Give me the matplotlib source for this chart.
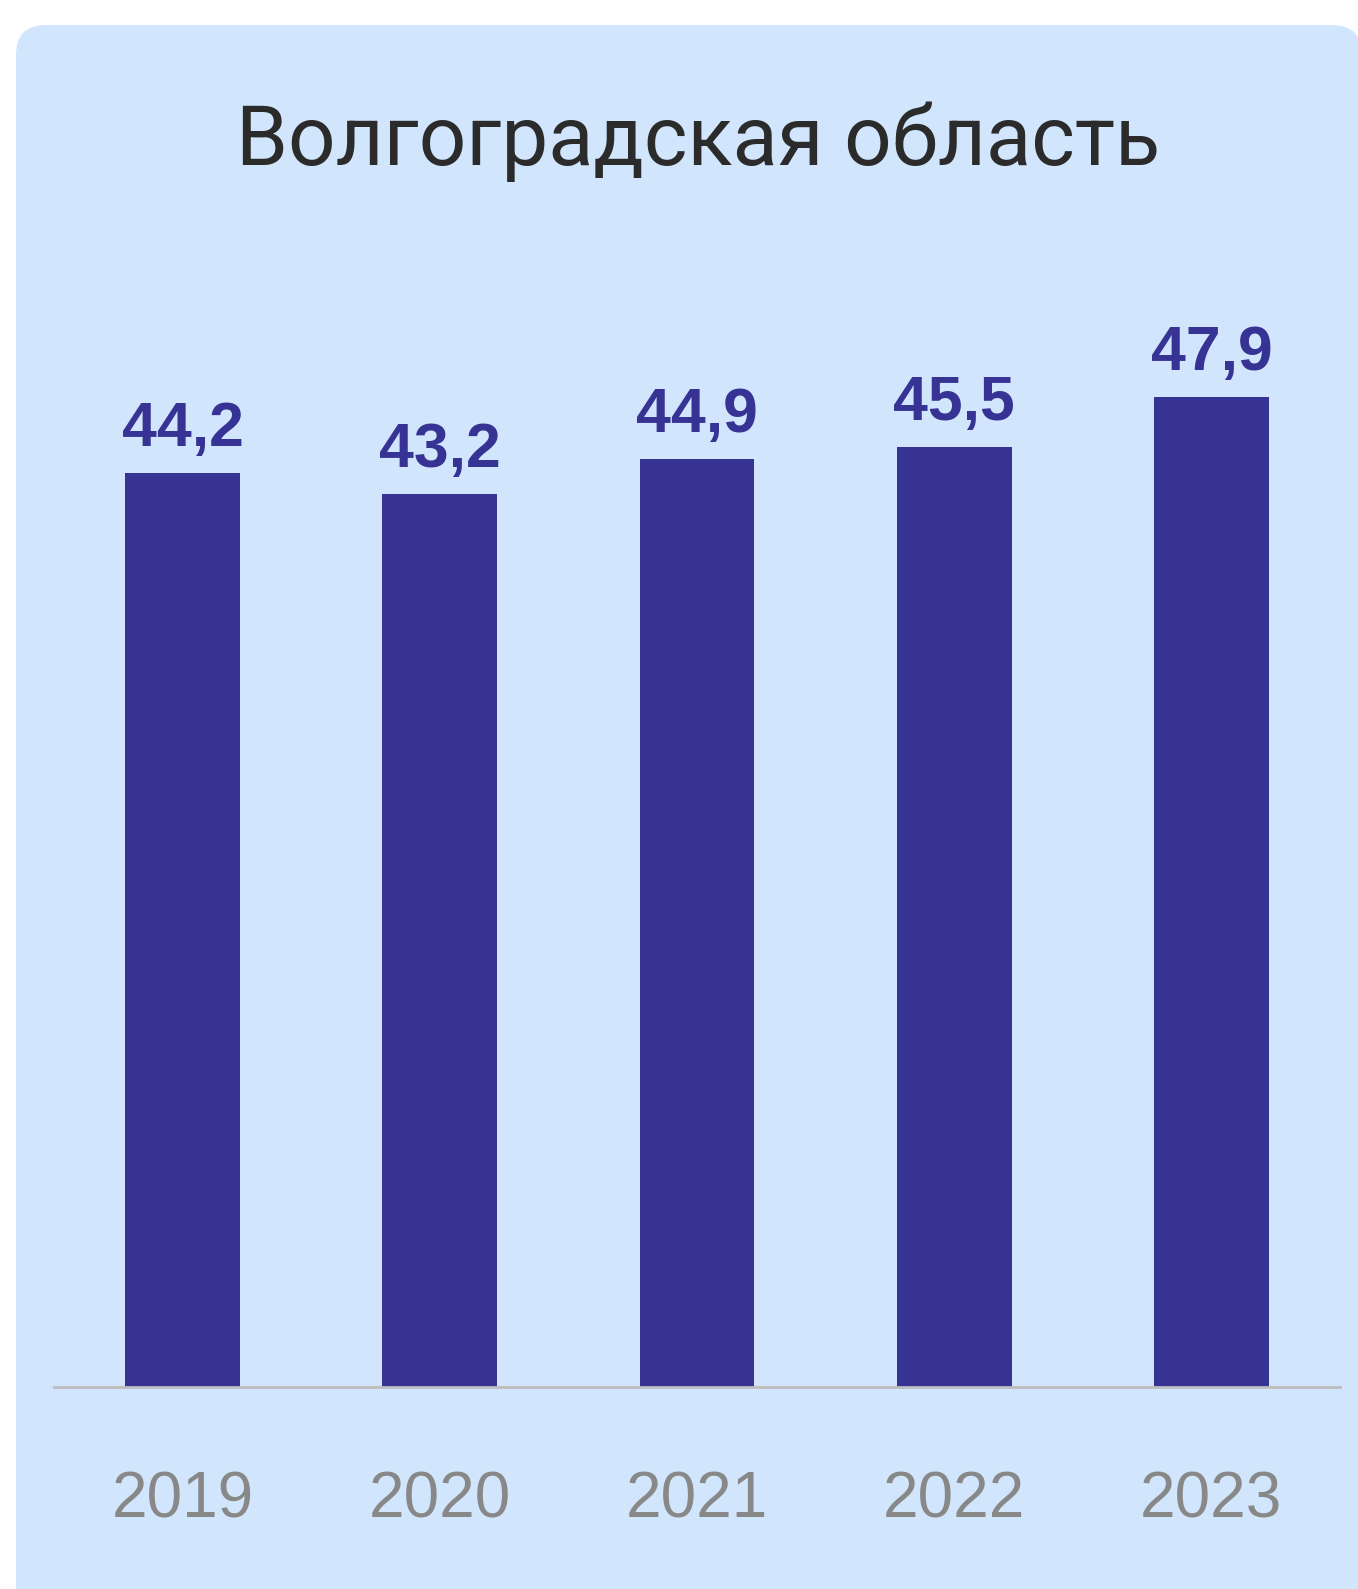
import matplotlib
matplotlib.use("Agg")
import matplotlib.pyplot as plt
from matplotlib.patches import FancyBboxPatch

years = ["2019", "2020", "2021", "2022", "2023"]
values = [44.2, 43.2, 44.9, 45.5, 47.9]
labels = ["44,2", "43,2", "44,9", "45,5", "47,9"]
title = "Волгоградская область"

W, H, DPI = 1358, 1589, 100
fig = plt.figure(figsize=(W / DPI, H / DPI), dpi=DPI)
fig.patch.set_facecolor("white")

bg = "#d1e6fd"
bar_c = "#363394"

# rounded panel (in inches)
panel = FancyBboxPatch((16 / DPI, -0.5), (1362 - 16) / DPI, (H - 25) / DPI + 0.5,
                       boxstyle="round,pad=0,rounding_size=0.30",
                       transform=fig.dpi_scale_trans, facecolor=bg, edgecolor="none", zorder=-5)
fig.patches.append(panel)

ax_left, ax_right = 54, 1340
ax_bottom, ax_top = 1387, 300
ax = fig.add_axes([ax_left / W, (H - ax_bottom) / H, (ax_right - ax_left) / W, (ax_bottom - ax_top) / H])
ax.set_facecolor("none")
ax.set_zorder(2)
px_per_unit = (1387 - 397) / 47.9
ax.set_ylim(0, (ax_bottom - ax_top) / px_per_unit)
ax.set_xlim(-0.5, len(years) - 0.5)

x = list(range(len(years)))
ax.bar(x, values, width=0.447, color=bar_c, zorder=2)
for xi, v, lab in zip(x, values, labels):
    ax.annotate(lab, (xi, v), xytext=(0, 14), textcoords="offset pixels",
                ha="center", va="bottom", fontsize=45, fontweight="bold",
                color=bar_c, family="Liberation Sans")

for s in ["top", "right", "left"]:
    ax.spines[s].set_visible(False)
ax.spines["bottom"].set_color("#bdbdbd")
ax.spines["bottom"].set_linewidth(2)
ax.set_yticks([])
ax.set_xticks(x)
ax.set_xticklabels(years, fontsize=46, color="#888888", family="Liberation Sans")
ax.tick_params(axis="x", length=0, pad=60)

fig.text(698 / W, 1 - 165 / H, title, ha="center", va="baseline", fontsize=60,
         color="#2b2b2b", family="Roboto", zorder=3)

fig.savefig("out.png", dpi=DPI, facecolor="white")
